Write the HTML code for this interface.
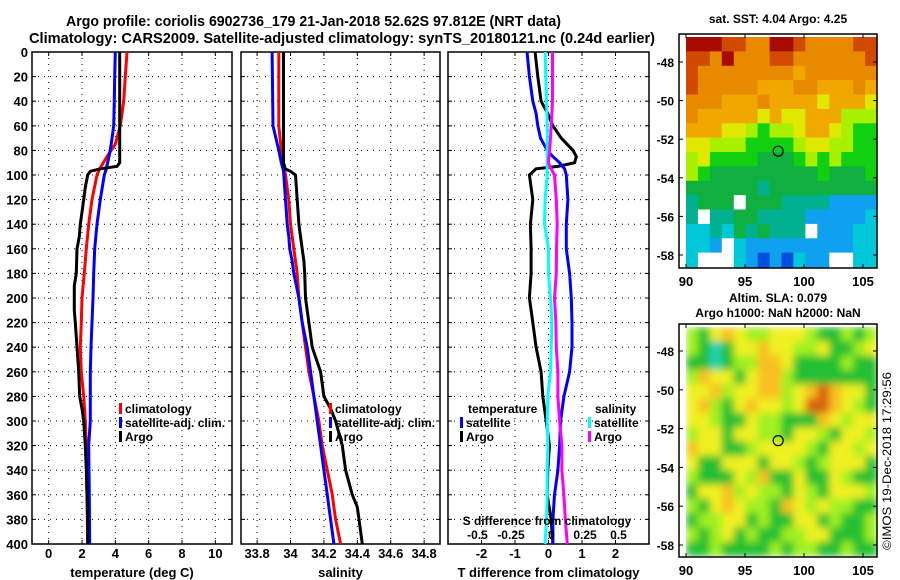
<!DOCTYPE html>
<html><head><meta charset="utf-8"><style>
body{margin:0;background:#fff;}
svg{display:block;font-family:"Liberation Sans",sans-serif;font-weight:bold;}
</style></head><body>
<svg id="fig" width="900" height="580" viewBox="0 0 900 580" xmlns="http://www.w3.org/2000/svg">
<defs>
<filter id="blur" x="0" y="0" width="1" height="1"><feGaussianBlur stdDeviation="4" edgeMode="duplicate"/></filter>
<clipPath id="slaclip"><rect x="686" y="327" width="191" height="229"/></clipPath>
</defs>
<text x="66" y="26" font-size="15" textLength="495" lengthAdjust="spacingAndGlyphs">Argo profile: coriolis 6902736_179 21-Jan-2018 52.62S 97.812E (NRT data)</text>
<text x="29" y="43" font-size="15" textLength="626" lengthAdjust="spacingAndGlyphs">Climatology: CARS2009. Satellite-adjusted climatology: synTS_20180121.nc (0.24d earlier)</text>
<g id="g"></g>
<text x="778" y="23" font-size="12" text-anchor="middle">sat. SST: 4.04 Argo: 4.25</text>
<text x="778" y="302" font-size="12" text-anchor="middle">Altim. SLA: 0.079</text>
<text x="778" y="317" font-size="12" text-anchor="middle">Argo h1000: NaN h2000: NaN</text>
<text transform="translate(891,550) rotate(-90)" font-size="12" font-weight="normal" textLength="178" lengthAdjust="spacingAndGlyphs">©IMOS 19-Dec-2018 17:29:56</text>
</svg>
<script>
// ---- data ----
const depthsT = [0,20,40,60,75,85,90,93,95,97,100,110,120,130,140,150,160,180,190,210,220,240,260,280,290,300,320,340,360,380,400];
const tempArgo = [4.26,4.26,4.26,4.26,4.26,4.26,4.26,4.1,3.1,2.5,2.34,2.2,2.1,2.0,1.9,1.84,1.7,1.66,1.54,1.54,1.6,1.7,1.8,1.86,2.0,2.1,2.2,2.26,2.3,2.34,2.34];
const depthsC = [0,20,40,60,75,85,95,100,120,140,160,180,200,220,240,260,280,300,320,360,400];
const tempClim = [4.7,4.6,4.5,4.3,4.0,3.5,3.06,2.9,2.6,2.4,2.26,2.14,2.0,1.96,1.9,1.96,2.1,2.2,2.26,2.3,2.34];
const tempSat  = [4.0,3.96,3.94,3.9,3.75,3.62,3.46,3.34,3.1,2.9,2.76,2.7,2.66,2.6,2.54,2.5,2.5,2.5,2.4,2.44,2.46];
const depthsS = [0,60,80,90,95,97,100,120,140,150,160,170,180,200,220,240,260,280,290,300,320,340,360,370,380,400];
const salArgo = [33.958,33.958,33.958,33.958,33.968,34.0,34.03,34.04,34.05,34.06,34.07,34.08,34.085,34.09,34.11,34.13,34.18,34.2,34.24,34.27,34.31,34.33,34.37,34.4,34.41,34.43];
const salClim = [33.93,33.93,33.945,33.955,33.965,33.967,33.97,33.99,34.0,34.01,34.02,34.03,34.04,34.05,34.07,34.09,34.11,34.14,34.155,34.17,34.19,34.22,34.25,34.26,34.27,34.3];
const salSat  = [33.89,33.895,33.93,33.945,33.955,33.958,33.96,33.97,33.98,33.99,33.995,34.01,34.02,34.05,34.07,34.1,34.12,34.14,34.15,34.16,34.18,34.2,34.22,34.23,34.24,34.26];
const depthsD = [0,20,40,50,60,70,80,85,90,93,95,100,120,140,160,180,200,220,240,260,280,300,320,340,360,380,400];
const dTArgo = [-0.4,-0.32,-0.22,-0.02,0.13,0.38,0.73,0.83,0.78,0.28,-0.37,-0.57,-0.47,-0.54,-0.52,-0.52,-0.57,-0.47,-0.37,-0.22,-0.17,-0.07,0.03,-0.02,-0.04,0.08,0.13];
const dTSat  = [-0.64,-0.57,-0.47,-0.37,-0.32,-0.24,-0.04,0.13,0.33,0.42,0.48,0.53,0.58,0.53,0.53,0.63,0.68,0.7,0.7,0.63,0.46,0.36,0.33,0.28,0.18,0.13,0.13];
const dSSat  = [-0.025,-0.02,-0.015,-0.012,-0.01,-0.01,-0.01,-0.01,-0.01,-0.01,-0.01,-0.01,-0.025,-0.03,0,0.0,0.015,0.025,0.02,0.015,-0.005,-0.01,-0.005,-0.01,-0.01,-0.015,-0.025];
const dSArgo = [0.03,0.03,0.03,0.025,0.02,0.015,0.008,0.003,0.0,0.01,0.02,0.045,0.058,0.065,0.06,0.058,0.045,0.055,0.058,0.07,0.07,0.083,0.1,0.1,0.115,0.125,0.14];
const depthTicks = [0,20,40,60,80,100,120,140,160,180,200,220,240,260,280,300,320,340,360,380,400];
const tempTicks = [0,2,4,6,8,10];
const salTicks = [33.8,34,34.2,34.4,34.6,34.8];
const dTTicks = [-2,-1,0,1,2];
const dSTicks = [-0.5,-0.25,0,0.25,0.5];
const latTicks = [-48,-50,-52,-54,-56,-58];
const lonTicks = [90,95,100,105];
const sstRows = [
"RRRrrooRRroooorr","rroRooorroooooor","rooooooooOoooooo","roooooOOOooOOOoO",
"oooOOOoOOOOyOOOy","oOOOOOyOyyOOOlll","OOOyylgllyOOylgg","yylllgggglyyllgg",
"lyggggGGGglglggg","lgGGGGGGGGGgGGGg","GGGGGGtGGGGGGGGG","tGGG.GGGttttbbbb",
"t.ttGGttttbbbbbc","cctcGtGttt.bbbcc","ccb.cbbbbbbbbbcc","c...cbBbBcbb..cc"];
const slaRows = [
"lgyOyllyyylgglgl","lgtgyyOyyllyggly","ggtgllOOygggglgg","lOyygyOOlggggggg",
"yyOlyyOOlyOdOyyg","yOlgyOyylyddOylg","yylggyllgggOylyy","lyygyyllgyylgyyl",
"Oyygglyyyylgyyly","yggyyygyylglyyyg","lgggylOggyggylgg","gyyOlyllgylgyyyl",
"lgyOyllgOylyllgg","gllyyglggyyglggl","lglyglggllyygggl","gglgggglgllgglgg"];
const sstColors = {R:"#a80c00",r:"#d04a00",o:"#e88a00",O:"#f0a800",y:"#e0e800",l:"#a8f000",g:"#10d010",G:"#10b040",t:"#00b090",c:"#00c8d8",b:"#10a0f0",B:"#0050e0",".":"#ffffff"};
const slaColors = {l:"#a0f020",y:"#f0f020",O:"#f8c020",d:"#d86010",g:"#20c030",t:"#20d0b0"};

// ---- helpers ----
const NS="http://www.w3.org/2000/svg";
const G=document.getElementById('g');
function mk(tag,attrs,parent){const e=document.createElementNS(NS,tag);for(const k in attrs)e.setAttribute(k,attrs[k]);(parent||G).appendChild(e);return e;}
const yTop=52,yBot=544;
const yD=d=>yTop+d*(yBot-yTop)/400;
function axisX(x0,x1,v0,v1){return v=>x0+(v-v0)*(x1-x0)/(v1-v0);}
const xT=axisX(32,232,-1,11), xS=axisX(241,440,33.7036,34.895), xDT=axisX(448,649,-3,3), xDS=v=>xDT(v*4);

function panel(name,x0,x1,ticks,xf,label,depthLabels){
  const p=mk('g',{});
  
  
  mk('rect',{x:x0,y:yTop,width:x1-x0,height:yBot-yTop,fill:'#fff',stroke:'#000','stroke-width':1.5},p);
  depthTicks.forEach(d=>{if(d>0&&d<400)mk('line',{x1:x0,x2:x1,y1:yD(d),y2:yD(d),stroke:'#000','stroke-width':1,'stroke-dasharray':'1 5'},p);
    mk('line',{x1:x0,x2:x0+4,y1:yD(d),y2:yD(d),stroke:'#000'},p);mk('line',{x1:x1-4,x2:x1,y1:yD(d),y2:yD(d),stroke:'#000'},p);
    if(depthLabels){const t=mk('text',{x:x0-4,y:yD(d)+5,'font-size':13,'text-anchor':'end'},p);t.textContent=d;
      
      }});
  ticks.forEach(v=>{const x=xf(v);mk('line',{x1:x,x2:x,y1:yTop,y2:yBot,stroke:'#000','stroke-width':1,'stroke-dasharray':'1 5'},p);
    mk('line',{x1:x,x2:x,y1:yBot-4,y2:yBot,stroke:'#000'},p);mk('line',{x1:x,x2:x,y1:yTop,y2:yTop+4,stroke:'#000'},p);
    const t=mk('text',{x:x,y:yBot+14,'font-size':13,'text-anchor':'middle'},p);t.textContent=v;
    
    });
  const t=mk('text',{x:(x0+x1)/2,y:577,'font-size':13,'text-anchor':'middle'},p);t.textContent=label;
  
  
}
function line(name,depths,vals,xf,color){
  let pts=[];
  for(let i=0;i<vals.length;i++){pts.push(xf(vals[i]).toFixed(1)+','+yD(depths[i]).toFixed(1));}
  const l=mk('polyline',{points:pts.join(' '),fill:'none',stroke:color,'stroke-width':3,'stroke-linejoin':'miter'});
  
  
}
function legend(x,y,color,text,name){
  mk('rect',{x:x,y:y-10,width:3,height:11,fill:color});
  const t=mk('text',{x:x+6,y:y,'font-size':12});t.textContent=text;
  
  
}

panel('temperature-panel',32,232,tempTicks,xT,'temperature (deg C)',true);
panel('salinity-panel',241,440,salTicks,xS,'salinity',false);
panel('difference-panel',448,649,dTTicks,xDT,'T difference from climatology',false);

line('temp-climatology-line',depthsC,tempClim,xT,'#ff0000');
line('temp-satellite-line',depthsC,tempSat,xT,'#0000ff');
line('temp-argo-line',depthsT,tempArgo,xT,'#000000');
line('sal-climatology-line',depthsS,salClim,xS,'#ff0000');
line('sal-satellite-line',depthsS,salSat,xS,'#0000ff');
line('sal-argo-line',depthsS,salArgo,xS,'#000000');
line('dT-argo-line',depthsD,dTArgo,xDT,'#000000');
line('dT-satellite-line',depthsD,dTSat,xDT,'#0000ff');
line('dS-satellite-line',depthsD,dSSat,xDS,'#00ffff');
line('dS-argo-line',depthsD,dSArgo,xDS,'#ff00ff');

legend(119,413,'#ff0000','climatology','legend-climatology');
legend(119,427,'#0000ff','satellite-adj. clim.','legend-satellite');
legend(119,441,'#000000','Argo','legend-argo');
legend(329,413,'#ff0000','climatology','legend-climatology-sal');
legend(329,427,'#0000ff','satellite-adj. clim.','legend-satellite-sal');
legend(329,441,'#000000','Argo','legend-argo-sal');
{const t=mk('text',{x:468,y:413,'font-size':12});t.textContent='temperature';


const s=mk('text',{x:595,y:413,'font-size':12});s.textContent='salinity';

}
legend(460,427,'#0000ff','satellite','legend-dT-satellite');
legend(460,441,'#000000','Argo','legend-dT-argo');
legend(588,427,'#00ffff','satellite','legend-dS-satellite');
legend(588,441,'#ff00ff','Argo','legend-dS-argo');
{const t=mk('text',{x:547,y:525,'font-size':12,'text-anchor':'middle'});t.textContent='S difference from climatology';


dSTicks.forEach(v=>{const e=mk('text',{x:xDS(v)+(v<0?-4:3),y:539,'font-size':12,'text-anchor':'middle'});e.textContent=String(v);

});}

// maps
function map(name,rows,colors,boxY0,boxY1,lat0y,lat1y,blur){
  const x0=686,x1=877,lonX=axisX(686,863,90,105),latY=axisX(lat0y,lat1y,-48,-58);
  const g=mk('g',{});
  
  
  const outer=blur?mk('g',{'clip-path':'url(#slaclip)'},g):g;
  const cells=blur?mk('g',{filter:'url(#blur)'},outer):g;
  const nr=rows.length,nc=rows[0].length,cw=(x1-x0)/nc,ch=(boxY1-boxY0)/nr;
  rows.forEach((r,i)=>{for(let j=0;j<nc;j++){const c=r[j];
    const cell=mk('rect',{x:(x0+j*cw).toFixed(1),y:(boxY0+i*ch).toFixed(1),width:(cw+0.6).toFixed(1),height:(ch+0.6).toFixed(1),fill:colors[c]||'#fff'},cells);
    
    }});
  mk('rect',{x:679,y:boxY0-3,width:198,height:boxY1-boxY0+4,fill:'none',stroke:'#000','stroke-width':1.5},g);
  latTicks.forEach(v=>{const y=latY(v);mk('line',{x1:873,x2:877,y1:y,y2:y,stroke:'#000'},g);mk('line',{x1:679,x2:683,y1:y,y2:y,stroke:'#000'},g);
    const t=mk('text',{x:674,y:y+5,'font-size':12,'text-anchor':'end'},g);t.textContent=v;
    
    });
  lonTicks.forEach(v=>{const x=lonX(v);mk('line',{x1:x,x2:x,y1:boxY1-3,y2:boxY1+1,stroke:'#000'},g);mk('line',{x1:x,x2:x,y1:boxY0-3,y2:boxY0+1,stroke:'#000'},g);
    const t=mk('text',{x:x,y:boxY1+19,'font-size':13,'text-anchor':'middle'},g);t.textContent=v;
    
    });
  const c=mk('circle',{cx:lonX(97.812),cy:latY(-52.62),r:5,fill:'none',stroke:'#000','stroke-width':1.2},g);
  
  
}
map('sst-map',sstRows,sstColors,37,267,62,255,false);
map('sla-map',slaRows,slaColors,327,556,351,545,true);
</script>
</body></html>
